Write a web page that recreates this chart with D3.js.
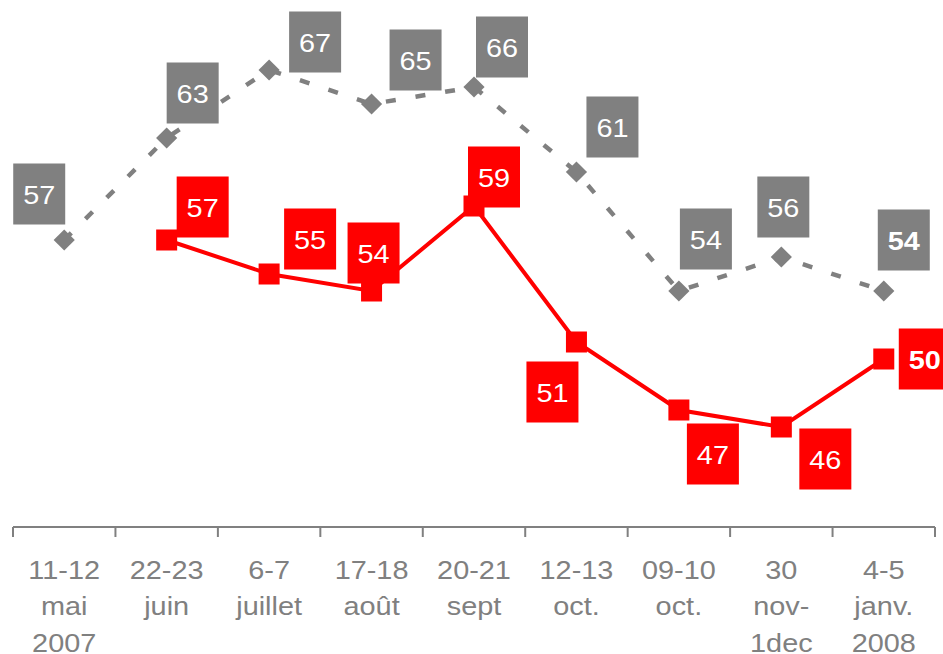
<!DOCTYPE html>
<html>
<head>
<meta charset="utf-8">
<script src="https://cdn.jsdelivr.net/npm/d3@7"></script>
<style>
  html, body { margin: 0; padding: 0; background: #fff; }
  svg { display: block; font-family: "Liberation Sans", Arial, sans-serif; }
</style>
</head>
<body>
<svg id="chart" width="943" height="654"></svg>
<script>
// ---- data ----
const categories = [
  "11-12\nmai\n2007",
  "22-23\njuin",
  "6-7\njuillet",
  "17-18\naoût",
  "20-21\nsept",
  "12-13\noct.",
  "09-10\noct.",
  "30\nnov-\n1dec",
  "4-5\njanv.\n2008"
];
const grayValues = [57, 63, 67, 65, 66, 61, 54, 56, 54];
const redValues  = [null, 57, 55, 54, 59, 51, 47, 46, 50];

// label box offsets (box centre relative to point), styling only
const grayLabelOffsets = [[-25,-46],[26,-45],[46,-28],[44,-44],[28,-40],[36,-45],[27,-52],[2,-50],[20,-51]];
const redLabelOffsets  = [null,[36,-33],[41,-35],[2,-38],[20,-29],[-24,50],[34,44],[44,32],[41,0]];

const GRAY = "#808080", RED = "#ff0000";
const TEXT_STRETCH = 1.09;

const svg = d3.select("#chart");

const x = d3.scaleBand().domain(categories).range([13, 935]).paddingInner(0).paddingOuter(0);
const y = d3.scaleLinear().domain([40, 71]).range([529, 2]);
const cx = c => x(c) + x.bandwidth() / 2;

// ---- x axis ----
const axisY = 527;
const axisG = svg.append("g").attr("transform", `translate(0,${axisY})`);
axisG.append("line")
  .attr("x1", 13).attr("x2", 935).attr("y1", 0).attr("y2", 0)
  .attr("stroke", GRAY).attr("stroke-width", 2);
const tickXs = categories.map(c => x(c)).concat([x(categories[categories.length-1]) + x.bandwidth()]);
axisG.selectAll("line.tick").data(tickXs).join("line")
  .attr("class", "tick")
  .attr("x1", d => d).attr("x2", d => d).attr("y1", 0).attr("y2", 10)
  .attr("stroke", GRAY).attr("stroke-width", 2);

const labG = svg.append("g");
categories.forEach(c => {
  const t = labG.append("text")
    .attr("transform", `translate(${cx(c)},579) scale(${TEXT_STRETCH},1)`)
    .attr("text-anchor", "middle")
    .attr("fill", GRAY).attr("font-size", 26.5);
  c.split("\n").forEach((ln, i) => {
    t.append("tspan").attr("x", 0).attr("y", i * 36.3).text(ln);
  });
});

// ---- gray series ----
const grayData = categories.map((c, i) => ({c, v: grayValues[i], i}));
const line = d3.line().x(d => cx(d.c)).y(d => y(d.v));

svg.append("path")
  .datum(grayData)
  .attr("d", line)
  .attr("fill", "none")
  .attr("stroke", GRAY)
  .attr("stroke-width", 4.5)
  .attr("stroke-dasharray", "10,20");

svg.append("g").selectAll("path").data(grayData).join("path")
  .attr("d", d3.symbol().type(d3.symbolSquare).size(225))
  .attr("transform", d => `translate(${cx(d.c)},${y(d.v)}) rotate(45)`)
  .attr("fill", GRAY);

// ---- red series ----
const redData = categories.map((c, i) => ({c, v: redValues[i], i})).filter(d => d.v !== null);

svg.append("path")
  .datum(redData)
  .attr("d", line)
  .attr("fill", "none")
  .attr("stroke", RED)
  .attr("stroke-width", 4);

svg.append("g").selectAll("rect").data(redData).join("rect")
  .attr("x", d => cx(d.c) - 10.5).attr("y", d => y(d.v) - 10.5)
  .attr("width", 21).attr("height", 21)
  .attr("fill", RED);

// ---- labels ----
function drawLabels(data, offsets, color) {
  const g = svg.append("g").selectAll("g").data(data).join("g")
    .attr("transform", d => {
      const o = offsets[d.i];
      return `translate(${cx(d.c) + o[0]},${y(d.v) + o[1]})`;
    });
  g.append("rect")
    .attr("x", -26).attr("y", -30.5).attr("width", 52).attr("height", 61)
    .attr("fill", color);
  g.append("text")
    .attr("transform", `scale(${TEXT_STRETCH},1)`)
    .attr("text-anchor", "middle")
    .attr("dy", "0.36em")
    .attr("fill", "#fff")
    .attr("font-size", 26.5)
    .attr("font-weight", d => d.i === categories.length - 1 ? "bold" : "normal")
    .text(d => d.v);
}
drawLabels(grayData, grayLabelOffsets, GRAY);
drawLabels(redData, redLabelOffsets, RED);
</script>
</body>
</html>
